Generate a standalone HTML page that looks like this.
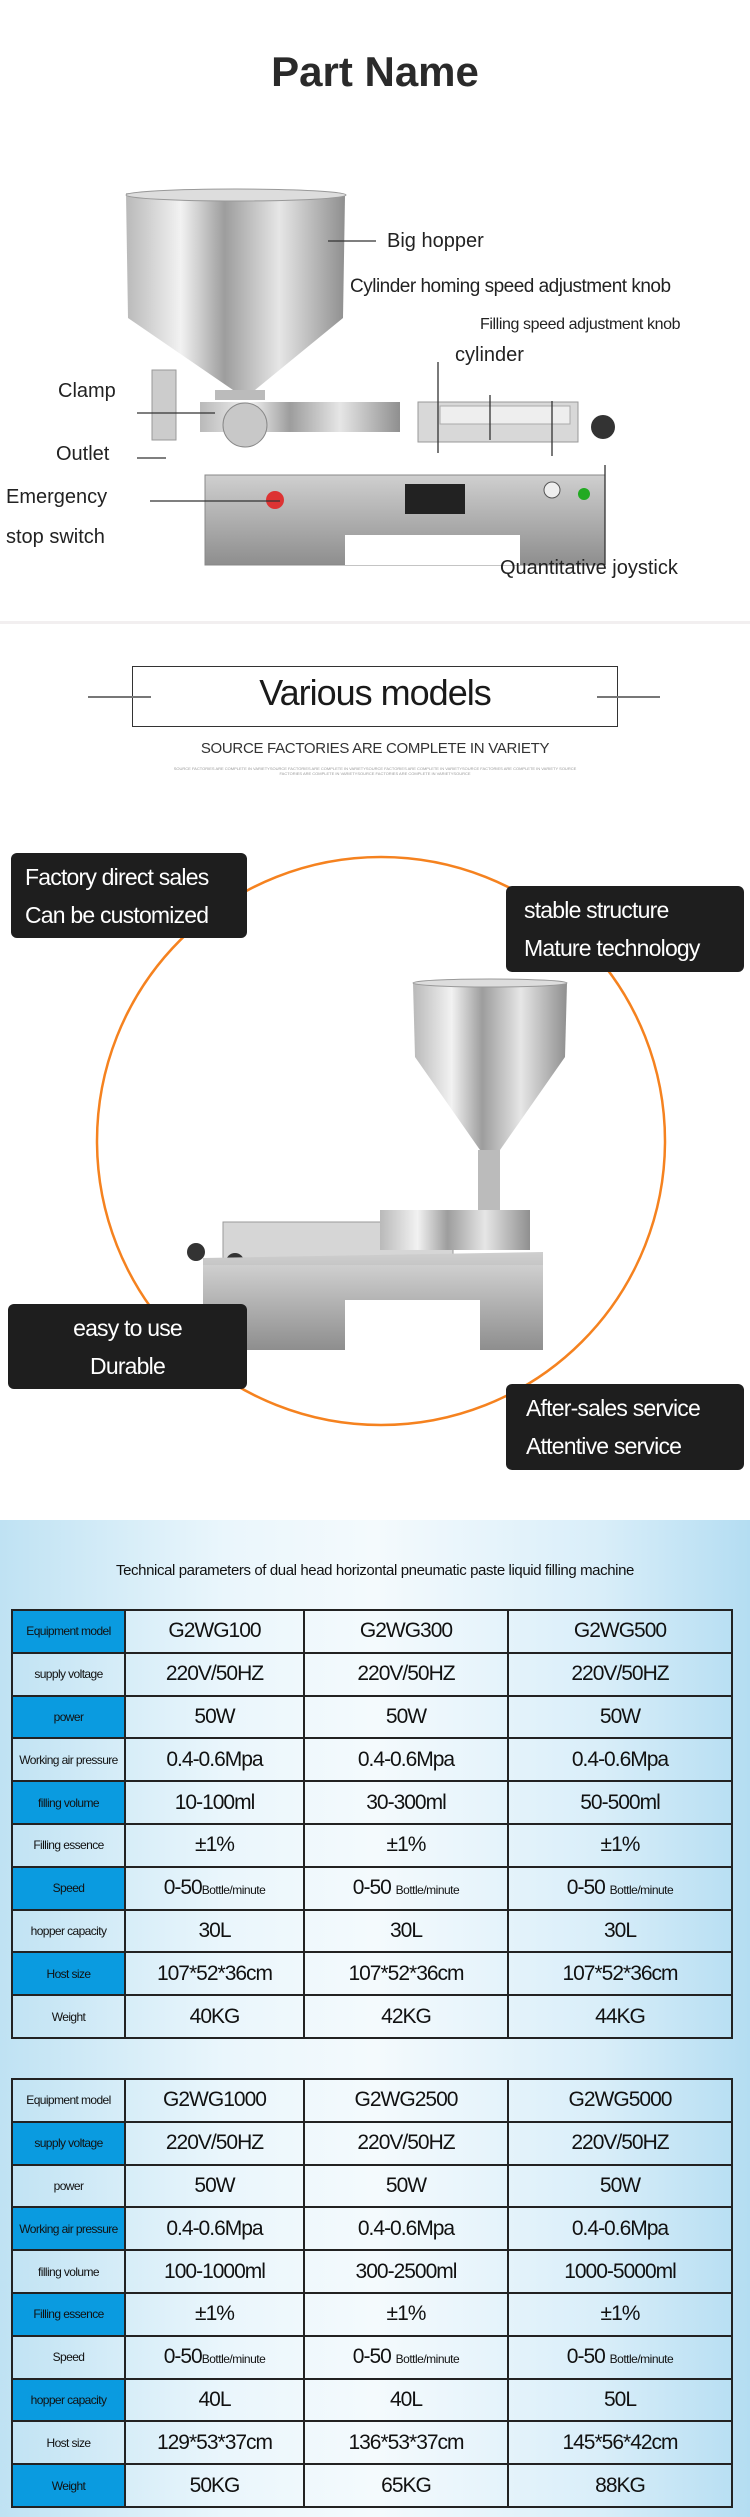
<!DOCTYPE html>
<html><head><meta charset="utf-8"><style>
*{margin:0;padding:0;box-sizing:border-box}
body{width:750px;height:2517px;position:relative;background:#fff;font-family:"Liberation Sans",sans-serif;overflow:hidden}
.a{position:absolute;white-space:nowrap}
.lbl{position:absolute;font-size:20px;color:#222;white-space:nowrap}
.box{position:absolute;background:#1e1e1e;border-radius:6px;color:#fff;font-family:"Liberation Sans",sans-serif;font-size:23px;letter-spacing:-0.8px;line-height:38px;padding:5px 0 0 14px;white-space:nowrap;overflow:hidden}
.sec3{position:absolute;left:0;top:1520px;width:750px;height:997px;background:linear-gradient(90deg,#bfe2f3 0%,#eaf6fc 30%,#f4fafd 50%,#d9eef9 80%,#b4ddf2 100%)}
table{position:absolute;left:11px;width:720px;border-collapse:collapse;font-family:"Liberation Sans",sans-serif;table-layout:fixed}
td{border:2px solid #222;height:42.8px;text-align:center;font-size:21px;color:#111;letter-spacing:-1px;white-space:nowrap;overflow:hidden}
td.l{font-size:12px;letter-spacing:-0.6px}
td.b{background:#0a9be0}
td small{font-size:12px;letter-spacing:-0.5px}
</style></head><body>

<div class="a" style="left:0;top:48px;width:750px;text-align:center;font-size:42px;font-weight:bold;color:#2a2a2a">Part Name</div>

<svg class="a" style="left:0;top:150px" width="750" height="420" viewBox="0 150 750 420">
<defs>
<linearGradient id="st" x1="0" x2="1"><stop offset="0" stop-color="#b9b9b9"/><stop offset=".25" stop-color="#f2f2f2"/><stop offset=".45" stop-color="#9d9d9d"/><stop offset=".7" stop-color="#e6e6e6"/><stop offset="1" stop-color="#8f8f8f"/></linearGradient>
<linearGradient id="bs" x1="0" y1="0" x2="0" y2="1"><stop offset="0" stop-color="#cfcfcf"/><stop offset="1" stop-color="#8e8e8e"/></linearGradient>
</defs>
<path d="M126 193 L345 196 L343 318 L255 390 L233 390 L128 318 Z" fill="url(#st)"/>
<ellipse cx="236" cy="195" rx="110" ry="6" fill="#ddd" stroke="#999"/>
<rect x="215" y="390" width="50" height="10" fill="#bbb"/>
<rect x="200" y="402" width="200" height="30" fill="url(#st)"/>
<circle cx="245" cy="425" r="22" fill="#c8c8c8" stroke="#888"/>
<rect x="418" y="402" width="160" height="40" fill="#d8d8d8" stroke="#999"/>
<rect x="440" y="406" width="130" height="18" fill="#eee" stroke="#aaa"/>
<circle cx="603" cy="427" r="12" fill="#333"/>
<rect x="152" y="370" width="24" height="70" fill="#ccc" stroke="#999"/>
<rect x="205" y="475" width="400" height="90" fill="url(#bs)" stroke="#888"/>
<rect x="345" y="535" width="175" height="30" fill="#fff"/>
<circle cx="275" cy="500" r="9" fill="#d33"/>
<rect x="405" y="484" width="60" height="30" fill="#222"/>
<circle cx="552" cy="490" r="8" fill="#eee" stroke="#555"/>
<circle cx="584" cy="494" r="6" fill="#2a2"/>
<g stroke="#333" stroke-width="1.3">
<line x1="328" y1="241" x2="376" y2="241"/>
<line x1="438" y1="362" x2="438" y2="453"/>
<line x1="552" y1="401" x2="552" y2="456"/>
<line x1="490" y1="395" x2="490" y2="440"/>
<line x1="137" y1="413" x2="215" y2="413"/>
<line x1="137" y1="458" x2="166" y2="458"/>
<line x1="150" y1="501" x2="280" y2="501"/>
<line x1="605" y1="465" x2="605" y2="565"/>
</g>
</svg>
<div class="lbl" style="left:387px;top:230px">Big hopper</div>
<div class="lbl" style="left:350px;top:276px;font-size:19px;letter-spacing:-0.5px">Cylinder homing speed adjustment knob</div>
<div class="lbl" style="left:480px;top:316px;font-size:16px;letter-spacing:-0.4px">Filling speed adjustment knob</div>
<div class="lbl" style="left:455px;top:344px">cylinder</div>
<div class="lbl" style="left:58px;top:380px">Clamp</div>
<div class="lbl" style="left:56px;top:443px">Outlet</div>
<div class="lbl" style="left:6px;top:486px">Emergency</div>
<div class="lbl" style="left:6px;top:526px">stop switch</div>
<div class="lbl" style="left:500px;top:557px">Quantitative joystick</div>
<div class="a" style="left:0;top:621px;width:750px;height:3px;background:#f2eff0"></div>

<div class="a" style="left:132px;top:666px;width:486px;height:61px;border:1.5px solid #333"></div>
<div class="a" style="left:88px;top:696px;width:63px;height:1.5px;background:#777"></div>
<div class="a" style="left:597px;top:696px;width:63px;height:1.5px;background:#777"></div>
<div class="a" style="left:0;top:672px;width:750px;text-align:center;font-size:36px;letter-spacing:-1px;color:#1a1a1a">Various models</div>
<div class="a" style="left:0;top:740px;width:750px;text-align:center;font-size:15px;letter-spacing:-0.3px;color:#333">SOURCE FACTORIES ARE COMPLETE IN VARIETY</div>
<div class="a" style="left:163px;top:766px;width:424px;text-align:center;font-size:4px;color:#999;white-space:normal">SOURCE FACTORIES ARE COMPLETE IN VARIETYSOURCE FACTORIES ARE COMPLETE IN VARIETYSOURCE FACTORIES ARE COMPLETE IN VARIETYSOURCE FACTORIES ARE COMPLETE IN VARIETY SOURCE FACTORIES ARE COMPLETE IN VARIETYSOURCE FACTORIES ARE COMPLETE IN VARIETYSOURCE</div>

<svg class="a" style="left:0;top:840px" width="750" height="680" viewBox="0 840 750 680">
<circle cx="381" cy="1141" r="284" fill="none" stroke="#f5821f" stroke-width="2.5"/>
<path d="M413 983 L567 983 L565 1057 L500 1150 L480 1150 L415 1057 Z" fill="url(#st)"/>
<ellipse cx="490" cy="983" rx="77" ry="4" fill="#ddd" stroke="#999"/>
<rect x="478" y="1150" width="22" height="60" fill="#bbb"/>
<rect x="223" y="1222" width="230" height="38" fill="#d6d6d6" stroke="#999"/>
<rect x="380" y="1210" width="150" height="40" fill="url(#st)"/>
<circle cx="196" cy="1252" r="9" fill="#333"/>
<circle cx="235" cy="1262" r="9" fill="#333"/>
<path d="M203 1258 L543 1252 L543 1320 L203 1345 Z" fill="url(#bs)"/>
<rect x="203" y="1265" width="340" height="85" fill="url(#bs)"/>
<rect x="345" y="1300" width="135" height="50" fill="#fff"/>
</svg>
<div class="box" style="left:11px;top:853px;width:236px;height:85px">Factory direct sales<br>Can be customized</div>
<div class="box" style="left:506px;top:886px;width:238px;height:86px;padding-left:18px">stable structure<br>Mature technology</div>
<div class="box" style="left:8px;top:1304px;width:239px;height:85px;padding-left:0;text-align:center">easy to use<br>Durable</div>
<div class="box" style="left:506px;top:1384px;width:238px;height:86px;padding-left:20px">After-sales service<br>Attentive service</div>

<div class="sec3"></div>
<div class="a" style="left:0;top:1562px;width:750px;text-align:center;font-size:15px;letter-spacing:-0.4px;color:#111">Technical parameters of dual head horizontal pneumatic paste liquid filling machine</div>

<table style="top:1609px">
<colgroup><col style="width:113px"><col style="width:179px"><col style="width:204px"><col style="width:224px"></colgroup>
<tr><td class="l b">Equipment model</td><td>G2WG100</td><td>G2WG300</td><td>G2WG500</td></tr>
<tr><td class="l">supply voltage</td><td>220V/50HZ</td><td>220V/50HZ</td><td>220V/50HZ</td></tr>
<tr><td class="l b">power</td><td>50W</td><td>50W</td><td>50W</td></tr>
<tr><td class="l">Working air pressure</td><td>0.4-0.6Mpa</td><td>0.4-0.6Mpa</td><td>0.4-0.6Mpa</td></tr>
<tr><td class="l b">filling volume</td><td>10-100ml</td><td>30-300ml</td><td>50-500ml</td></tr>
<tr><td class="l">Filling essence</td><td>±1%</td><td>±1%</td><td>±1%</td></tr>
<tr><td class="l b">Speed</td><td>0-50<small>Bottle/minute</small></td><td>0-50 <small>Bottle/minute</small></td><td>0-50 <small>Bottle/minute</small></td></tr>
<tr><td class="l">hopper capacity</td><td>30L</td><td>30L</td><td>30L</td></tr>
<tr><td class="l b">Host size</td><td>107*52*36cm</td><td>107*52*36cm</td><td>107*52*36cm</td></tr>
<tr><td class="l">Weight</td><td>40KG</td><td>42KG</td><td>44KG</td></tr>
</table>

<table style="top:2078px">
<colgroup><col style="width:113px"><col style="width:179px"><col style="width:204px"><col style="width:224px"></colgroup>
<tr><td class="l">Equipment model</td><td>G2WG1000</td><td>G2WG2500</td><td>G2WG5000</td></tr>
<tr><td class="l b">supply voltage</td><td>220V/50HZ</td><td>220V/50HZ</td><td>220V/50HZ</td></tr>
<tr><td class="l">power</td><td>50W</td><td>50W</td><td>50W</td></tr>
<tr><td class="l b">Working air pressure</td><td>0.4-0.6Mpa</td><td>0.4-0.6Mpa</td><td>0.4-0.6Mpa</td></tr>
<tr><td class="l">filling volume</td><td>100-1000ml</td><td>300-2500ml</td><td>1000-5000ml</td></tr>
<tr><td class="l b">Filling essence</td><td>±1%</td><td>±1%</td><td>±1%</td></tr>
<tr><td class="l">Speed</td><td>0-50<small>Bottle/minute</small></td><td>0-50 <small>Bottle/minute</small></td><td>0-50 <small>Bottle/minute</small></td></tr>
<tr><td class="l b">hopper capacity</td><td>40L</td><td>40L</td><td>50L</td></tr>
<tr><td class="l">Host size</td><td>129*53*37cm</td><td>136*53*37cm</td><td>145*56*42cm</td></tr>
<tr><td class="l b">Weight</td><td>50KG</td><td>65KG</td><td>88KG</td></tr>
</table>
</body></html>
